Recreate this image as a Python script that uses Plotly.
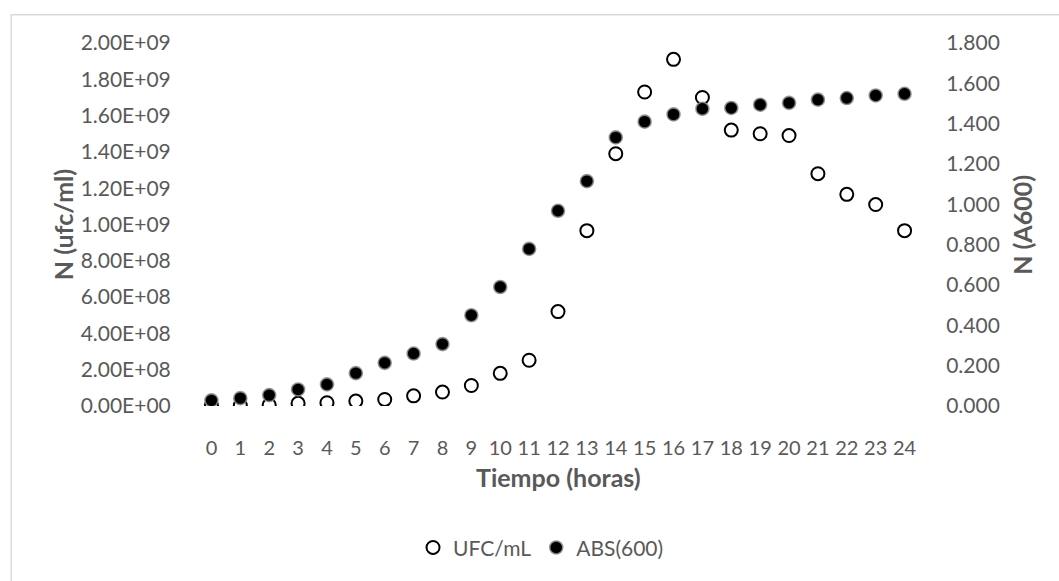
import plotly.graph_objects as go

# Growth curve: viable counts (UFC/mL) and optical density (A600) over 24 h
hours = list(range(25))
ufc_ml = [2e6, 3e6, 5e6, 1.5e7, 1.8e7, 2.7e7, 3.6e7, 5.6e7, 7.7e7, 1.13e8,
          1.80e8, 2.52e8, 5.2e8, 9.66e8, 1.39e9, 1.73e9, 1.91e9, 1.70e9,
          1.52e9, 1.50e9, 1.49e9, 1.28e9, 1.166e9, 1.11e9, 9.66e8]
abs600 = [0.028, 0.039, 0.054, 0.082, 0.107, 0.163, 0.214, 0.260, 0.307, 0.450,
          0.590, 0.779, 0.968, 1.115, 1.332, 1.410, 1.446, 1.474, 1.478, 1.494,
          1.503, 1.519, 1.527, 1.540, 1.548]

left_ticks = [0, 2e8, 4e8, 6e8, 8e8, 1e9, 1.2e9, 1.4e9, 1.6e9, 1.8e9, 2e9]
left_labels = ["0.00E+00", "2.00E+08", "4.00E+08", "6.00E+08", "8.00E+08",
               "1.00E+09", "1.20E+09", "1.40E+09", "1.60E+09", "1.80E+09",
               "2.00E+09"]
right_ticks = [0, 0.2, 0.4, 0.6, 0.8, 1.0, 1.2, 1.4, 1.6, 1.8]

FONT = "Lato"
GREY = "#595959"
TITLE_SIZE = 25

fig = go.Figure()
fig.add_trace(go.Scatter(
    x=hours, y=ufc_ml, mode="markers", name="UFC/mL",
    marker=dict(symbol="circle", size=13, color="white",
                line=dict(color="black", width=2)),
    yaxis="y",
))
fig.add_trace(go.Scatter(
    x=hours, y=abs600, mode="markers", name="ABS(600)",
    marker=dict(symbol="circle", size=13, color="black",
                line=dict(color="rgba(140,140,140,0.85)", width=1.6)),
    yaxis="y2",
))

L, R, T, B = 196.5, 139.5, 43, 172
W, H = 1059, 581
pw, ph = W - L - R, H - T - B


def px_x(x):
    return (x - L) / pw


def px_y(y):
    return (H - B - y) / ph


xtickfont = dict(family=FONT, size=20, color=GREY)
ytickfont = dict(family=FONT, size=21, color=GREY)
titlefont = dict(family=FONT, size=TITLE_SIZE, color=GREY)

fig.update_layout(
    width=W, height=H,
    margin=dict(l=L, r=R, t=T, b=B),
    paper_bgcolor="white", plot_bgcolor="white",
    font=dict(family=FONT, size=20, color=GREY),
    showlegend=True,
    legend=dict(orientation="h", x=px_x(541), xanchor="center",
                y=px_y(552), yanchor="middle",
                font=dict(family=FONT, size=21, color=GREY),
                itemsizing="trace", itemwidth=30, tracegroupgap=0),
    xaxis=dict(range=[-0.5, 24.5], tickvals=hours, ticktext=[str(h) for h in hours],
               showgrid=False, zeroline=False, showline=False,
               ticks="outside", ticklen=24, tickcolor="rgba(0,0,0,0)",
               tickfont=xtickfont),
    yaxis=dict(range=[0, 2e9], tickvals=left_ticks, ticktext=left_labels,
               showgrid=False, zeroline=False, showline=False,
               ticks="outside", ticklen=21, tickcolor="rgba(0,0,0,0)",
               tickfont=ytickfont),
    yaxis2=dict(range=[0, 1.8], tickvals=right_ticks, tickformat=".3f",
                overlaying="y", side="right",
                showgrid=False, zeroline=False, showline=False,
                ticks="outside", ticklen=22, tickcolor="rgba(0,0,0,0)",
                tickfont=ytickfont),
    annotations=[
        dict(text="<b>Tiempo (horas)</b>", xref="paper", yref="paper",
             x=px_x(558), y=px_y(481), xanchor="center", yanchor="middle",
             showarrow=False, font=titlefont),
        dict(text="<b>N (ufc/ml)</b>", xref="paper", yref="paper",
             x=px_x(62), y=0.5, xanchor="center", yanchor="middle",
             textangle=-90, showarrow=False, font=titlefont),
        dict(text="<b>N (A600)</b>", xref="paper", yref="paper",
             x=px_x(1022), y=0.5, xanchor="center", yanchor="middle",
             textangle=-90, showarrow=False, font=titlefont),
    ],
    shapes=[
        dict(type="rect", xref="paper", yref="paper",
             x0=px_x(10.5), x1=px_x(1075), y0=px_y(600), y1=px_y(14.5),
             line=dict(color="#d9d9d9", width=1.5), fillcolor="rgba(0,0,0,0)",
             layer="below"),
    ],
)

fig.write_html("out.html")
